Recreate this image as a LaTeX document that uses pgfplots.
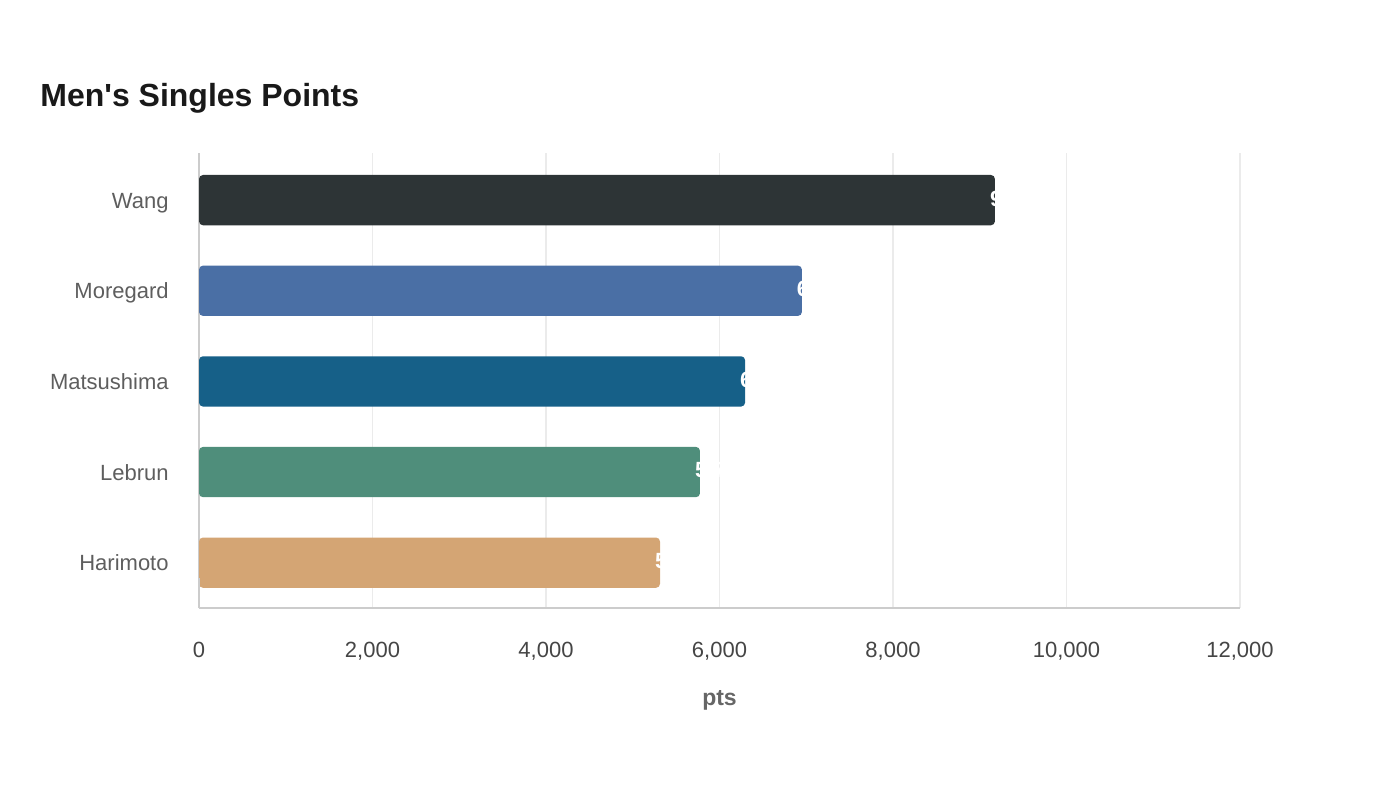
\documentclass[border=0pt]{standalone}
\usepackage{pgfplots}
\pgfplotsset{compat=1.18}
\usepackage{fontspec}
\setmainfont{Liberation Sans}
\definecolor{cWang}{HTML}{2D3436}
\definecolor{cMore}{HTML}{4A6FA5}
\definecolor{cMats}{HTML}{166088}
\definecolor{cLeb}{HTML}{4F8E7B}
\definecolor{cHari}{HTML}{D4A574}
\definecolor{gridc}{HTML}{EBEBEB}
\definecolor{axc}{HTML}{CCCCCC}
\begin{document}
\begin{tikzpicture}
\useasboundingbox (0,0) rectangle (700pt,400pt);
\node[anchor=west, font=\fontsize{16}{19}\selectfont\bfseries, text=black!90, inner sep=0pt] at (20pt,351pt) {Men\textquotesingle s Singles Points};
\begin{axis}[
  at={(99.5pt,96pt)}, anchor=south west,
  scale only axis, width=520.5pt, height=227.5pt,
  xbar, bar shift=0pt, bar width=0.555,
  xmin=0, xmax=12000, ymin=-0.5, ymax=4.52,
  axis x line*=bottom, axis y line*=left,
  axis line style={axc, line width=0.8pt, -},
  xtick={0,2000,4000,6000,8000,10000,12000},
  ytick={0,1,2,3,4},
  yticklabels={Harimoto,Lebrun,Matsushima,Moregard,Wang},
  major tick length=0pt,
  xmajorgrids, major grid style={gridc, line width=0.8pt},
  /pgf/number format/assume math mode=true,
  /pgf/number format/1000 sep={,},
  scaled x ticks=false,
  xticklabel style={font=\fontsize{11}{13}\selectfont, text=black!73, anchor=base, yshift=-24.5pt, inner sep=0pt},
  yticklabel style={font=\fontsize{11}{13}\selectfont, text=black!63, anchor=base east, xshift=-15pt, yshift=-4pt, inner sep=0pt},
  xlabel={pts},
  xlabel style={at={(axis description cs:0.5,0)}, anchor=base, yshift=-48.5pt, font=\fontsize{11.5}{13}\selectfont\bfseries, text=black!60, inner sep=0pt},
  nodes near coords={\pgfmathprintnumber{\pgfplotspointmeta}},
  point meta=x,
  every node near coord/.append style={anchor=west, xshift=-6pt, text=white, font=\fontsize{11}{13}\selectfont\bfseries},
  clip=false,
]
\addplot[draw=none, fill=cHari, rounded corners=2pt] coordinates {(5314,0)};
\addplot[draw=none, fill=cLeb, rounded corners=2pt] coordinates {(5775,1)};
\addplot[draw=none, fill=cMats, rounded corners=2pt] coordinates {(6295,2)};
\addplot[draw=none, fill=cMore, rounded corners=2pt] coordinates {(6950,3)};
\addplot[draw=none, fill=cWang, rounded corners=2pt] coordinates {(9175,4)};
\draw[axc, line width=0.8pt] (axis cs:0,-0.5) -- ++(0,-7.5pt);
\end{axis}
\end{tikzpicture}
\end{document}
